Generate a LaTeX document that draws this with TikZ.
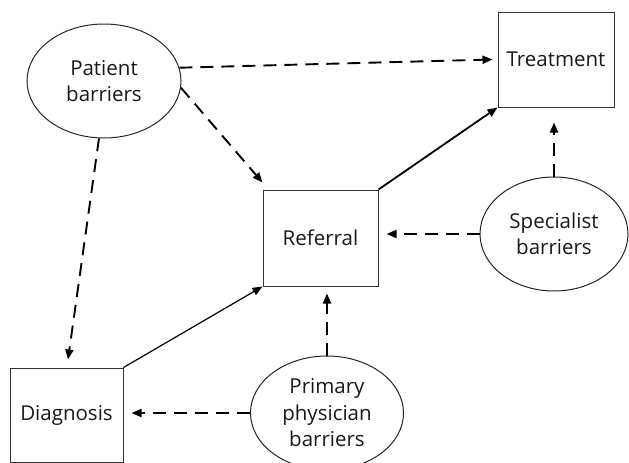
\documentclass[tikz,border=0pt]{standalone}
\usepackage{fontspec}
\setmainfont{Open Sans}
\usetikzlibrary{shapes.geometric,arrows.meta}
\begin{document}
\begin{tikzpicture}[x=1pt,y=-1pt,
  every node/.style={font=\fontsize{20.5}{26.5}\selectfont, text=black!90, align=center},
  boxnode/.style={draw=black!80, line width=1pt, inner sep=0pt},
  ovalnode/.style={draw=black!85, line width=1pt, ellipse, inner sep=0pt},
  dasharrow/.style={line width=1.9pt, dash pattern=on 13pt off 8pt, -{Triangle[length=10pt,width=8pt]}},
  solidarrow/.style={-{Triangle[length=10pt,width=8pt]}}]
\useasboundingbox (0,0) rectangle (629,463);
% nodes
\node[ovalnode, minimum width=154pt, minimum height=114pt] (pb) at (104,81) {Patient\\barriers};
\node[boxnode, minimum width=116pt, minimum height=95pt] (tr) at (556,59.5) {Treatment};
\node[boxnode, minimum width=115pt, minimum height=96pt] (ref) at (320.5,238) {Referral};
\node[ovalnode, minimum width=148pt, minimum height=114pt] (sp) at (554,234) {Specialist\\barriers};
\node[boxnode, minimum width=113pt, minimum height=94pt] (dia) at (66.5,415) {Diagnosis};
\node[ovalnode, minimum width=153pt, minimum height=114pt] (pp) at (327,413) {Primary\\physician\\barriers};
% free ends
\coordinate (trW) at ([xshift=-5pt]tr.west);
\coordinate (refNW) at ([yshift=7pt]ref.north west);
\coordinate (diaN) at ([xshift=1.5pt,yshift=8pt]dia.north);
\coordinate (trS) at ([yshift=-15pt]tr.south -| sp.north);
\coordinate (refE) at ([xshift=8pt]ref.east |- sp.west);
\coordinate (refS) at ([yshift=-7pt]ref.south -| pp.north);
\coordinate (diaE) at ([xshift=8pt]dia.east |- pp.west);
% connectors
\draw[dasharrow] (pb.10) -- (trW);
\draw[dasharrow] (pb.-5) -- (refNW);
\draw[dasharrow] (pb.265) -- (diaN);
\draw[solidarrow, line width=1.2pt] (dia.north east) -- (ref.south west);
\draw[solidarrow, line width=1.8pt] (ref.north east) -- (tr.south west);
\draw[dasharrow] (sp.north) -- (trS);
\draw[dasharrow] (sp.west) -- (refE);
\draw[dasharrow] (pp.north) -- (refS);
\draw[dasharrow] (pp.west) -- (diaE);
\end{tikzpicture}
\end{document}
